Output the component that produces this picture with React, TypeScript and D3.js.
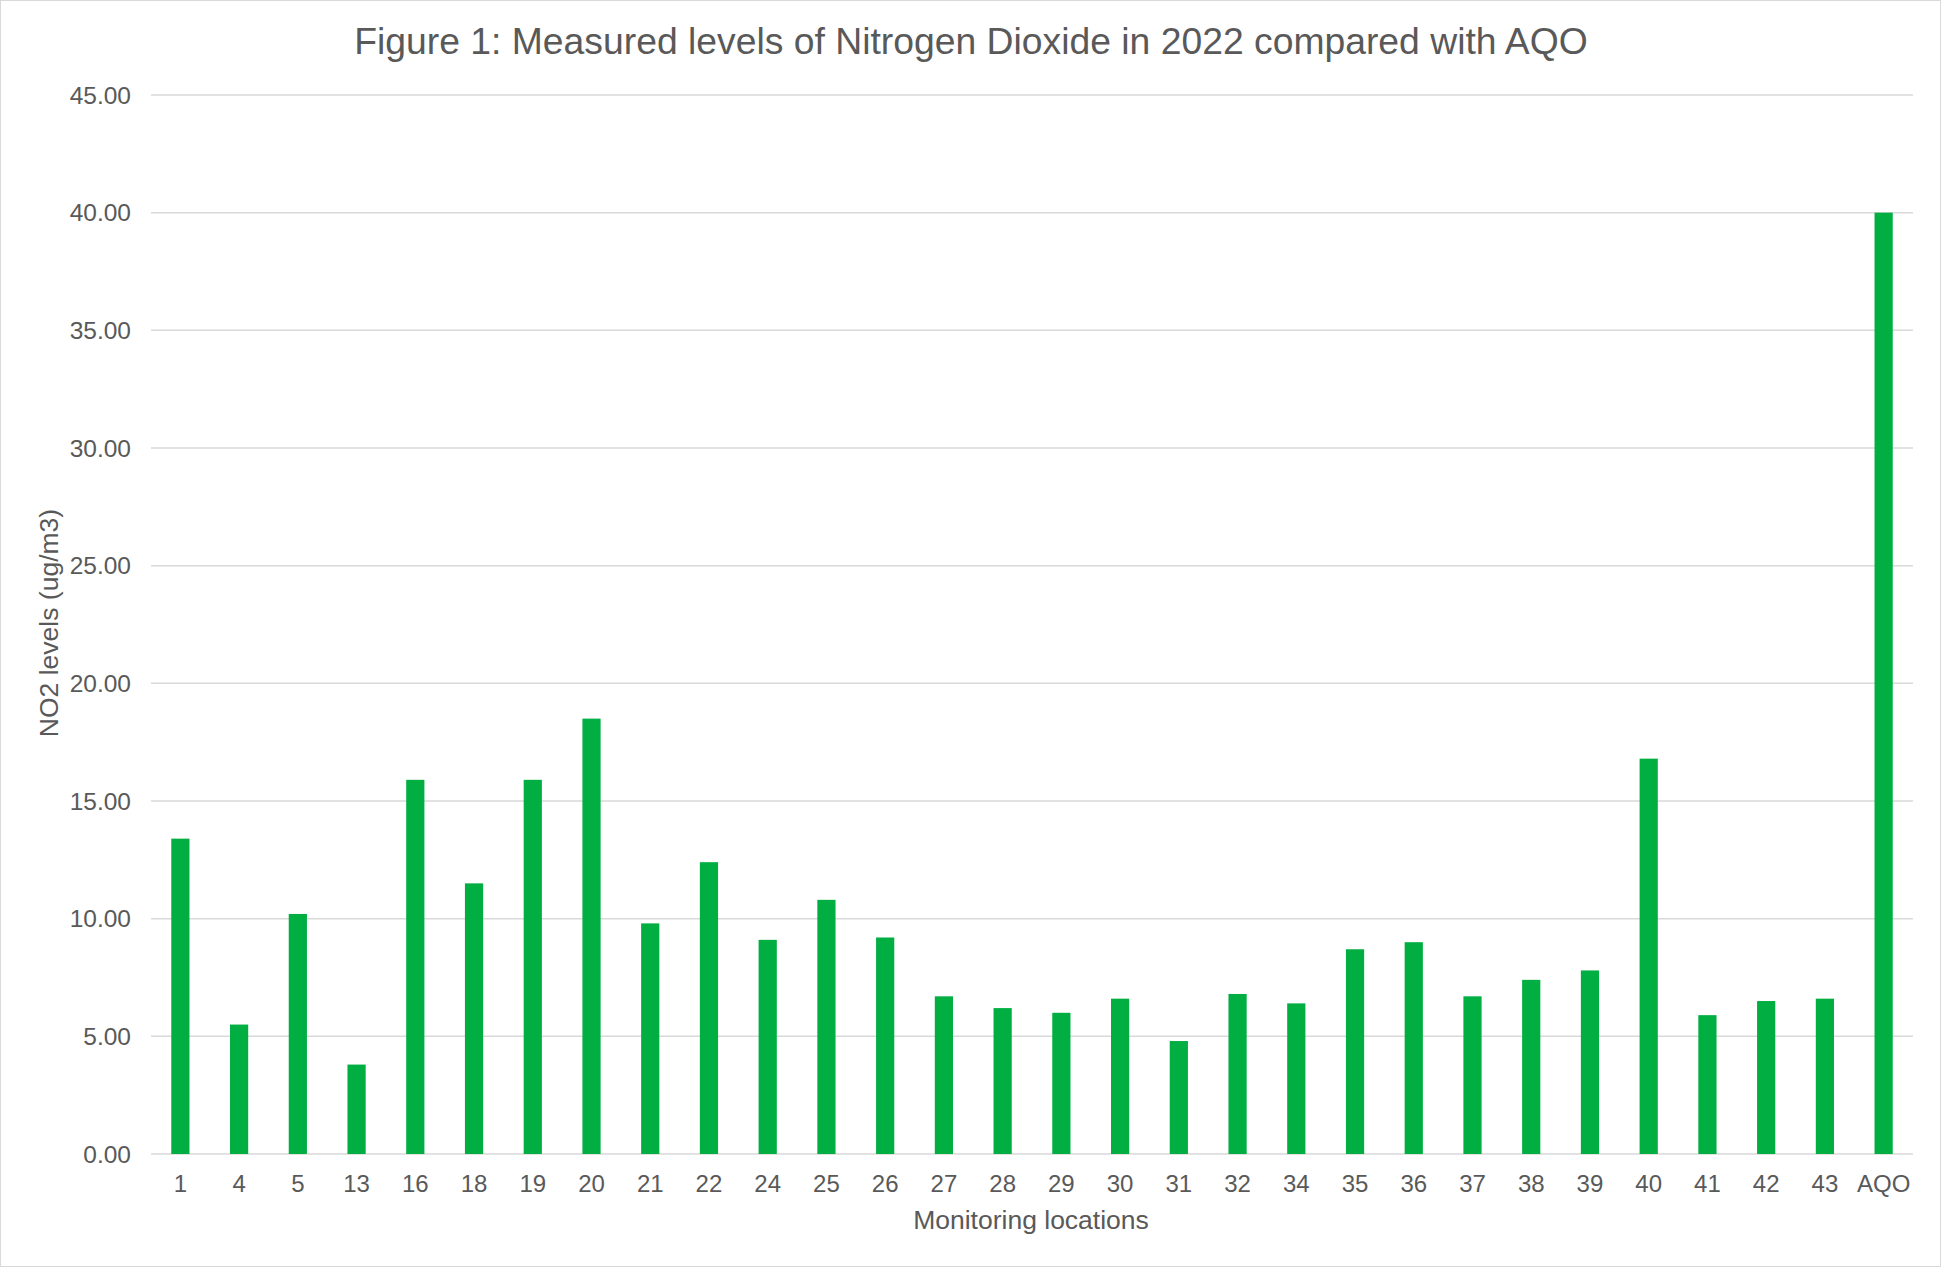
import { useEffect, useRef } from 'react';
import * as d3 from 'd3';

const locations = ['1', '4', '5', '13', '16', '18', '19', '20', '21', '22', '24', '25', '26', '27', '28', '29', '30', '31', '32', '34', '35', '36', '37', '38', '39', '40', '41', '42', '43', 'AQO'];
const no2Levels = [13.4, 5.5, 10.2, 3.8, 15.9, 11.5, 15.9, 18.5, 9.8, 12.4, 9.1, 10.8, 9.2, 6.7, 6.2, 6.0, 6.6, 4.8, 6.8, 6.4, 8.7, 9.0, 6.7, 7.4, 7.8, 16.8, 5.9, 6.5, 6.6, 40];
const yTicks = [0, 5, 10, 15, 20, 25, 30, 35, 40, 45];

const App = () => {
  const ref = useRef<SVGSVGElement>(null);

  useEffect(() => {
    const width = 1941;
    const height = 1267;
    const margin = { top: 95, right: 28, bottom: 113, left: 151 };
    const font = 'Liberation Sans, Arial, sans-serif';
    const textColor = '#595959';

    const svg = d3.select(ref.current)
      .attr('width', width)
      .attr('height', height);
    svg.selectAll('*').remove();

    svg.append('rect')
      .attr('x', 0.5).attr('y', 0.5)
      .attr('width', width - 1).attr('height', height - 1)
      .attr('fill', '#fff')
      .attr('stroke', '#d9d9d9');

    const x = d3.scaleBand()
      .domain(locations)
      .range([margin.left, width - margin.right])
      .paddingInner(0.69)
      .paddingOuter(0.345);

    const y = d3.scaleLinear()
      .domain([0, 45])
      .range([height - margin.bottom, margin.top]);

    // gridlines
    svg.append('g')
      .selectAll('line')
      .data(yTicks)
      .enter().append('line')
      .attr('x1', margin.left)
      .attr('x2', width - margin.right)
      .attr('y1', (d) => y(d))
      .attr('y2', (d) => y(d))
      .attr('stroke', '#d9d9d9')
      .attr('stroke-width', 1.5);

    // y tick labels
    svg.append('g')
      .selectAll('text')
      .data(yTicks)
      .enter().append('text')
      .attr('x', 131)
      .attr('y', (d) => y(d))
      .attr('dy', '0.35em')
      .attr('text-anchor', 'end')
      .attr('font-family', font)
      .attr('font-size', 24.5)
      .attr('fill', textColor)
      .text((d) => d.toFixed(2));

    // bars
    svg.append('g')
      .selectAll('rect')
      .data(no2Levels)
      .enter().append('rect')
      .attr('x', (d, i) => x(locations[i]))
      .attr('y', (d) => y(d))
      .attr('width', x.bandwidth())
      .attr('height', (d) => y(0) - y(d))
      .attr('fill', '#00ae42');

    // x tick labels
    svg.append('g')
      .selectAll('text')
      .data(locations)
      .enter().append('text')
      .attr('x', (d) => x(d) + x.bandwidth() / 2)
      .attr('y', 1192)
      .attr('text-anchor', 'middle')
      .attr('font-family', font)
      .attr('font-size', 24)
      .attr('fill', textColor)
      .text((d) => d);

    svg.append('text')
      .attr('x', 1031)
      .attr('y', 1229)
      .attr('text-anchor', 'middle')
      .attr('font-family', font)
      .attr('font-size', 26.5)
      .attr('fill', textColor)
      .text('Monitoring locations');

    svg.append('text')
      .attr('transform', 'translate(58, 623) rotate(-90)')
      .attr('text-anchor', 'middle')
      .attr('font-family', font)
      .attr('font-size', 26.5)
      .attr('fill', textColor)
      .text('NO2 levels (ug/m3)');

    svg.append('text')
      .attr('x', 971)
      .attr('y', 54)
      .attr('text-anchor', 'middle')
      .attr('font-family', font)
      .attr('font-size', 37.3)
      .attr('fill', textColor)
      .text('Figure 1: Measured levels of Nitrogen Dioxide in 2022 compared with AQO');
  }, []);

  return <svg ref={ref} style={{ position: 'absolute', left: 0, top: 0 }}></svg>;
};

export default App;
